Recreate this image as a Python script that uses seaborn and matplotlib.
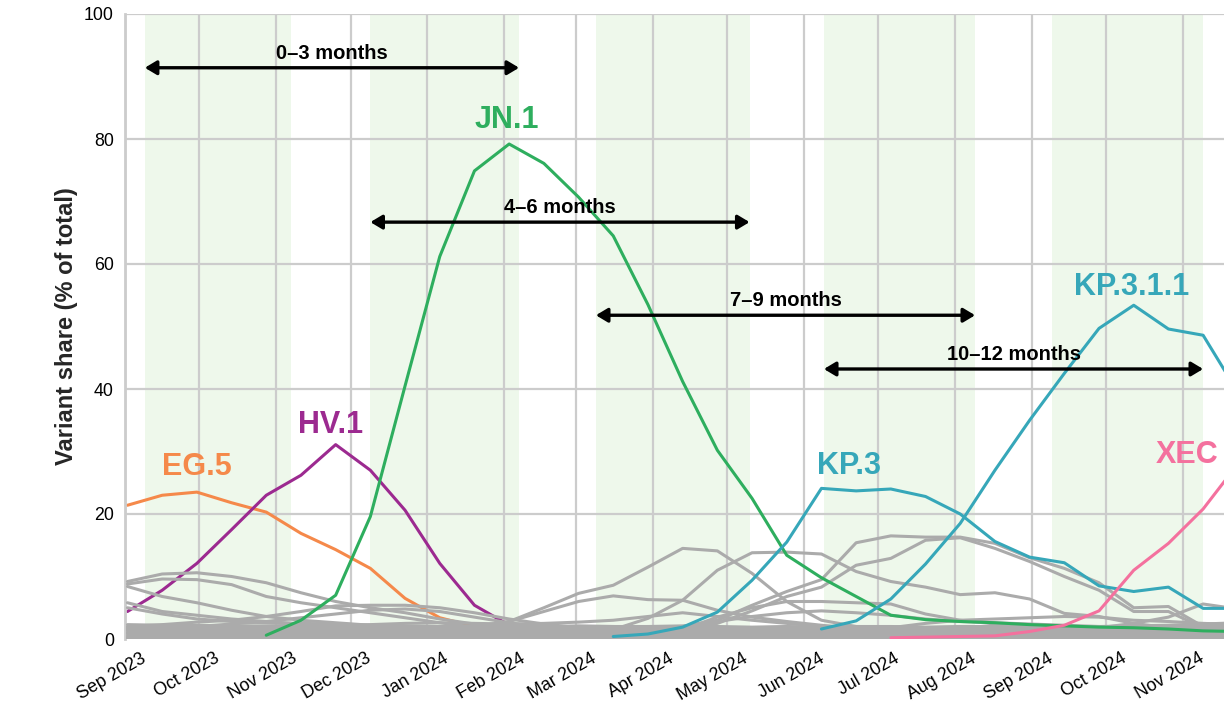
import matplotlib
matplotlib.use("Agg")
import matplotlib.pyplot as plt
from matplotlib.transforms import ScaledTranslation
import seaborn as sns
import pandas as pd
import numpy as np

# biweekly periods (Saturdays)
dates = pd.date_range("2023-09-02", periods=33, freq="14D")
nan = np.nan

# highlighted lineages, % share
eg5 = [21.4, 23.0, 23.5, 21.8, 20.3, 16.9, 14.3, 11.3, 6.5, 3.4, 2.0, 1.5, 1.2,
       0.9, 0.7, 0.5, 0.4, 0.3, 0.2, 0.2, 0.1, 0.1, 0.1, 0.1, 0.1, 0.1, 0.1, 0.1,
       0.1, 0.1, 0.1, 0.1, 0.1]
hv1 = [4.4, 7.8, 12.1, 17.5, 23.0, 26.2, 31.1, 27.0, 20.6, 12.1, 5.4, 2.2, 1.4,
       0.9, 0.6, 0.4, 0.3, 0.2, 0.2, 0.1, 0.1, 0.1, 0.1, 0.1, 0.1, 0.1, 0.1, 0.1,
       0.1, 0.1, 0.1, 0.1, 0.1]
jn1 = [nan, nan, nan, nan, 0.6, 3.0, 7.0, 19.6, 40.5, 61.2, 74.9, 79.2, 76.1,
       70.7, 64.5, 53.5, 41.2, 30.2, 22.5, 13.4, 9.8, 6.8, 3.8, 3.1, 2.8, 2.6,
       2.3, 2.1, 1.9, 1.8, 1.6, 1.3, 1.2]
kp3 = [nan, nan, nan, nan, nan, nan, nan, nan, nan, nan, nan, nan, nan, nan,
       0.4, 0.8, 1.9, 4.3, 9.4, 15.5, 24.1, 23.7, 24.0, 22.8, 20.0, 15.6, 13.1,
       12.2, 8.5, 7.6, 8.3, 4.9, 4.9]
kp311 = [nan, nan, nan, nan, nan, nan, nan, nan, nan, nan, nan, nan, nan, nan,
         nan, nan, nan, nan, nan, nan, 1.6, 2.9, 6.4, 12.0, 18.5, 27.0, 35.0,
         42.5, 49.7, 53.4, 49.6, 48.6, 39.5]
xec = [nan, nan, nan, nan, nan, nan, nan, nan, nan, nan, nan, nan, nan, nan,
       nan, nan, nan, nan, nan, nan, nan, nan, 0.2, 0.3, 0.4, 0.5, 1.2, 2.2, 4.5,
       11.0, 15.3, 20.8, 28.0]

# other lineages (grey)
g01 = [9.2, 10.4, 10.6, 10.0, 9.0, 7.4, 6.0, 5.0, 4.2, 3.2, 2.4, 1.8, 1.3, 1.0, 0.8, 0.6, 0.5,
       0.4, 0.3, 0.3, 0.3, 0.3, 0.3, 0.3, 0.3, 0.3, 0.3, 0.3, 0.3, 0.3, 0.3, 0.3, 0.3]
g02 = [8.8, 9.6, 9.5, 8.7, 6.8, 5.8, 5.0, 4.2, 3.4, 2.6, 1.9, 1.4, 1.0, 0.8, 0.6, 0.5, 0.4,
       0.4, 0.3, 0.3, 0.3, 0.3, 0.3, 0.3, 0.3, 0.3, 0.3, 0.3, 0.3, 0.3, 0.3, 0.3, 0.3]
g03 = [8.4, 6.8, 5.8, 4.6, 3.6, 3.0, 2.6, 2.2, 1.8, 1.4, 1.1, 0.9, 0.7, 0.6, 0.5, 0.4, 0.4,
       0.3, 0.3, 0.2, 0.2, 0.2, 0.2, 0.2, 0.2, 0.2, 0.2, 0.2, 0.2, 0.2, 0.2, 0.2, 0.2]
g04 = [5.8, 4.4, 3.8, 3.2, 2.8, 2.4, 2.0, 1.7, 1.4, 1.1, 0.9, 0.7, 0.6, 0.5, 0.4, 0.4, 0.3,
       0.3, 0.3, 0.2, 0.2, 0.2, 0.2, 0.2, 0.2, 0.2, 0.2, 0.2, 0.2, 0.2, 0.2, 0.2, 0.2]
g05 = [5.0, 4.0, 3.2, 2.8, 2.6, 2.5, 2.4, 2.2, 2.0, 1.7, 1.4, 1.1, 0.9, 0.7, 0.6, 0.5, 0.4,
       0.4, 0.3, 0.3, 0.3, 0.3, 0.3, 0.3, 0.3, 0.3, 0.3, 0.3, 0.3, 0.3, 0.3, 0.3, 0.3]
g06 = [2.0, 2.3, 2.7, 3.0, 3.6, 4.4, 5.3, 5.4, 5.4, 5.0, 4.2, 3.2, 2.4, 1.8, 1.3, 1.0, 0.8,
       0.6, 0.5, 0.4, 0.4, 0.4, 0.4, 0.4, 0.4, 0.4, 0.4, 0.4, 0.4, 0.4, 0.4, 0.4, 0.4]
g07 = [1.5, 1.8, 2.0, 2.4, 2.8, 3.4, 4.0, 4.6, 4.8, 4.4, 3.5, 2.6, 1.9, 1.4, 1.0, 0.8, 0.6,
       0.5, 0.4, 0.3, 0.3, 0.3, 0.3, 0.3, 0.3, 0.3, 0.3, 0.3, 0.3, 0.3, 0.3, 0.3, 0.3]
g08 = [0.2, 0.2, 0.2, 0.3, 0.3, 0.4, 0.5, 0.6, 0.8, 1.2, 2.0, 2.8, 5.0, 7.3, 8.6, 11.5, 14.5,
       14.1, 10.5, 6.0, 3.0, 2.0, 1.5, 1.2, 1.0, 0.8, 0.6, 0.5, 0.4, 0.4, 0.3, 0.3, 0.3]
g09 = [0.2, 0.2, 0.2, 0.2, 0.3, 0.3, 0.4, 0.5, 0.7, 1.0, 1.5, 2.8, 4.4, 6.0, 6.9, 6.3, 6.2,
       4.6, 3.5, 2.8, 2.2, 1.7, 1.3, 1.0, 0.8, 0.6, 0.5, 0.5, 0.4, 0.4, 0.3, 0.3, 0.3]
g10 = [0.1, 0.1, 0.1, 0.1, 0.1, 0.1, 0.2, 0.2, 0.2, 0.3, 0.4, 0.5, 0.7, 1.0, 1.5, 3.3, 6.2,
       11.0, 13.8, 13.9, 13.6, 10.8, 9.2, 8.3, 7.1, 7.4, 6.4, 4.1, 3.6, 2.5, 1.8, 1.2, 1.0]
g11 = [0.1, 0.1, 0.1, 0.1, 0.1, 0.1, 0.1, 0.1, 0.1, 0.1, 0.1, 0.2, 0.3, 0.4, 0.6, 1.0, 2.0,
       3.0, 5.4, 7.6, 9.5, 15.4, 16.5, 16.3, 16.3, 15.3, 13.0, 11.3, 9.0, 5.0, 5.2, 2.0, 1.5]
g12 = [0.1, 0.1, 0.1, 0.1, 0.1, 0.1, 0.1, 0.1, 0.1, 0.1, 0.1, 0.2, 0.3, 0.4, 0.6, 0.9, 1.5,
       2.5, 4.5, 6.8, 8.3, 11.8, 12.9, 15.8, 16.2, 14.5, 12.4, 10.0, 7.8, 4.4, 4.4, 1.8, 1.5]
g13 = [0.1, 0.1, 0.1, 0.1, 0.1, 0.1, 0.1, 0.1, 0.1, 0.1, 0.1, 0.1, 0.1, 0.1, 0.1, 0.1, 0.1,
       0.1, 0.1, 0.1, 0.2, 0.2, 0.3, 0.3, 0.4, 0.5, 0.6, 1.0, 1.8, 2.5, 3.5, 5.6, 4.8]
g14 = [0.1, 0.1, 0.1, 0.1, 0.1, 0.1, 0.1, 0.1, 0.1, 0.1, 0.1, 0.1, 0.2, 0.3, 0.5, 0.8, 1.5,
       3.5, 5.0, 6.0, 6.0, 5.8, 5.6, 4.0, 3.0, 2.4, 2.0, 1.6, 1.3, 1.0, 0.8, 0.6, 0.5]
g15 = [0.2, 0.2, 0.2, 0.2, 0.2, 0.2, 0.2, 0.2, 0.2, 0.2, 0.2, 0.2, 0.2, 0.2, 0.6, 1.2, 2.0,
       2.8, 3.6, 4.2, 4.5, 4.2, 3.8, 3.2, 2.8, 2.6, 2.4, 2.2, 2.0, 1.8, 1.6, 1.4, 1.2]
g16 = [1.0, 1.1, 1.2, 1.4, 1.6, 1.8, 2.0, 2.3, 2.5, 2.6, 2.5, 2.4, 2.5, 2.7, 3.0, 3.6, 4.2,
       3.6, 3.0, 2.5, 2.0, 1.6, 1.3, 1.1, 1.0, 0.9, 0.8, 0.7, 0.6, 0.5, 0.5, 0.4, 0.4]
g17 = [0.1, 0.1, 0.1, 0.1, 0.1, 0.1, 0.1, 0.1, 0.1, 0.1, 0.1, 0.1, 0.1, 0.1, 0.1, 0.2, 0.2,
       0.3, 0.3, 0.4, 0.5, 1.0, 1.8, 2.5, 3.0, 3.2, 3.4, 3.6, 3.5, 3.0, 2.8, 2.5, 2.3]
# many tiny lineages hugging the bottom
m1 = [0.2, 0.3, 0.3, 0.2, 0.2, 0.3, 0.3, 0.2, 0.2, 0.3, 0.3, 0.2, 0.2, 0.3, 0.3, 0.2, 0.2,
      0.3, 0.3, 0.2, 0.2, 0.3, 0.3, 0.2, 0.2, 0.3, 0.3, 0.2, 0.2, 0.3, 0.3, 0.2, 0.2]
m2 = [0.5, 0.6, 0.6, 0.5, 0.5, 0.6, 0.6, 0.5, 0.5, 0.6, 0.6, 0.5, 0.5, 0.6, 0.6, 0.5, 0.5,
      0.6, 0.6, 0.5, 0.5, 0.6, 0.6, 0.5, 0.5, 0.6, 0.6, 0.5, 0.5, 0.6, 0.6, 0.5, 0.5]
m3 = [0.8, 0.9, 0.9, 0.8, 0.8, 0.9, 0.9, 0.8, 0.8, 0.9, 0.9, 0.8, 0.8, 0.9, 0.9, 0.8, 0.8,
      0.9, 0.9, 0.8, 0.8, 0.9, 0.9, 0.8, 0.8, 0.9, 0.9, 0.8, 0.8, 0.9, 0.9, 0.8, 0.8]
m4 = [1.1, 1.2, 1.2, 1.1, 1.1, 1.2, 1.2, 1.1, 1.1, 1.2, 1.2, 1.1, 1.1, 1.2, 1.2, 1.1, 1.1,
      1.2, 1.2, 1.1, 1.1, 1.2, 1.2, 1.1, 1.1, 1.2, 1.2, 1.1, 1.1, 1.2, 1.2, 1.1, 1.1]
m5 = [1.4, 1.5, 1.5, 1.4, 1.4, 1.5, 1.5, 1.4, 1.4, 1.5, 1.5, 1.4, 1.4, 1.5, 1.5, 1.4, 1.4,
      1.5, 1.5, 1.4, 1.4, 1.5, 1.5, 1.4, 1.4, 1.5, 1.5, 1.4, 1.4, 1.5, 1.5, 1.4, 1.4]
m6 = [1.7, 1.6, 1.7, 1.8, 1.7, 1.6, 1.7, 1.8, 1.7, 1.6, 1.7, 1.8, 1.7, 1.6, 1.7, 1.8, 1.7,
      1.6, 1.7, 1.8, 1.7, 1.6, 1.7, 1.8, 1.7, 1.6, 1.7, 1.8, 1.7, 1.6, 1.7, 1.8, 1.7]
m7 = [1.9, 2.0, 2.0, 1.9, 1.9, 2.0, 2.0, 1.9, 1.9, 2.0, 2.0, 1.9, 1.9, 2.0, 2.0, 1.9, 1.9,
      1.8, 1.8, 1.9, 1.8, 1.8, 1.9, 1.8, 1.9, 1.9, 1.8, 1.9, 1.9, 2.0, 2.0, 2.1, 2.2]
m8 = [2.3, 2.2, 2.2, 2.1, 2.1, 2.2, 2.1, 2.0, 2.1, 2.0, 2.0, 2.1, 2.0, 2.1, 2.0, 2.0, 2.1,
      2.0, 1.9, 2.0, 1.9, 2.0, 2.0, 1.9, 2.0, 2.0, 1.9, 2.0, 2.0, 2.1, 2.2, 2.4, 2.6]

grey_lines = [g01, g02, g03, g04, g05, g06, g07, g08, g09, g10, g11, g12, g13,
              g14, g15, g16, g17, m1, m2, m3, m4, m5, m6, m7, m8]

# shaded windows and the arrows across them
band_starts = ["2023-09-09", "2023-12-09", "2024-03-09", "2024-06-09", "2024-09-09"]
band_ends = ["2023-11-07", "2024-02-07", "2024-05-10", "2024-08-09", "2024-11-09"]
arrow_labels = ["0\u20133 months", "4\u20136 months", "7\u20139 months", "10\u201312 months"]
arrow_y = [91.4, 66.7, 51.8, 43.2]

month_ticks = pd.date_range("2023-09-01", "2024-11-01", freq="MS")

colors = {"EG.5": "#f5894a", "HV.1": "#9c2a90", "JN.1": "#2eae5e",
          "KP.3": "#36a7b9", "KP.3.1.1": "#36a7b9", "XEC": "#f4719e"}
GREY = "#ababab"

sns.set_theme(style="white")
plt.rcParams["font.family"] = ["Liberation Sans", "DejaVu Sans"]

fig = plt.figure(figsize=(12.24, 7.04), dpi=100)
ax = fig.add_axes([125 / 1224, 65 / 704, 1207 / 1224, 625 / 704])

for s, e in zip(band_starts, band_ends):
    ax.axvspan(pd.Timestamp(s), pd.Timestamp(e), color="#eef8eb", lw=0, zorder=0)

df_grey = pd.DataFrame({
    "date": np.tile(dates.values, len(grey_lines)),
    "share": np.concatenate(grey_lines),
    "lineage": np.repeat(np.arange(len(grey_lines)), len(dates)),
})

def long(names, series):
    return pd.DataFrame({
        "date": np.tile(dates.values, len(series)),
        "share": np.concatenate(series),
        "variant": np.repeat(names, len(dates)),
    }).dropna()

early = long(["EG.5", "HV.1"], [eg5, hv1])
late = long(["JN.1", "KP.3", "KP.3.1.1", "XEC"], [jn1, kp3, kp311, xec])

sns.lineplot(data=early, x="date", y="share", hue="variant", palette=colors,
             units="variant", estimator=None, lw=2.2, legend=False, ax=ax, zorder=2)
sns.lineplot(data=df_grey, x="date", y="share", units="lineage", estimator=None,
             color=GREY, lw=2.2, legend=False, ax=ax, zorder=3)
sns.lineplot(data=late, x="date", y="share", hue="variant", palette=colors,
             units="variant", estimator=None, lw=2.2, legend=False, ax=ax, zorder=4)

# arrows
for i, lab in enumerate(arrow_labels):
    s, e = pd.Timestamp(band_starts[i]), pd.Timestamp(band_ends[i + 1])
    ax.annotate("", xy=(e, arrow_y[i]), xytext=(s, arrow_y[i]),
                arrowprops=dict(arrowstyle="<|-|>,head_length=0.5,head_width=0.3",
                                color="black", lw=2.4, shrinkA=0, shrinkB=0,
                                mutation_scale=14), zorder=6)
    ax.text(s + (e - s) / 2, arrow_y[i] + 1.45, lab, ha="center", va="baseline",
            fontsize=14.5, fontweight="bold", color="black", zorder=7)

# variant labels
ax.text(pd.Timestamp("2023-09-30"), 26.2, "EG.5", color=colors["EG.5"], fontsize=22,
        fontweight="bold", ha="center", va="baseline", zorder=7)
ax.text(pd.Timestamp("2023-11-23"), 32.9, "HV.1", color=colors["HV.1"], fontsize=22,
        fontweight="bold", ha="center", va="baseline", zorder=7)
ax.text(pd.Timestamp("2024-02-02"), 81.8, "JN.1", color=colors["JN.1"], fontsize=22,
        fontweight="bold", ha="center", va="baseline", zorder=7)
ax.text(pd.Timestamp("2024-06-19"), 26.4, "KP.3", color=colors["KP.3"], fontsize=22,
        fontweight="bold", ha="center", va="baseline", zorder=7)
ax.text(pd.Timestamp("2024-10-11"), 55.0, "KP.3.1.1", color=colors["KP.3.1.1"], fontsize=22,
        fontweight="bold", ha="center", va="baseline", zorder=7)
ax.text(pd.Timestamp("2024-10-21"), 28.1, "XEC", color=colors["XEC"], fontsize=22,
        fontweight="bold", ha="left", va="baseline", zorder=7)

ax.set_xlim(pd.Timestamp("2023-09-01"), pd.Timestamp("2024-12-31"))
ax.set_ylim(0, 100)
ax.set_yticks([0, 20, 40, 60, 80, 100])
ax.set_xticks(month_ticks)
ax.tick_params(axis="both", length=0, labelsize=12.8, colors="black")
ax.tick_params(axis="x", pad=8)
ax.tick_params(axis="y", pad=8)
ax.set_xticklabels([d.strftime("%b %Y") for d in month_ticks], rotation=30,
                   ha="right", rotation_mode="anchor", fontsize=12.8)
# labels sit a little right of their gridline, as in the original
offset = ScaledTranslation(0.15, 0, fig.dpi_scale_trans)
for lab in ax.get_xticklabels():
    lab.set_transform(lab.get_transform() + offset)
ax.grid(True, color="#cccccc", lw=1.6)
ax.set_axisbelow(True)
for side in ["top", "right", "bottom"]:
    ax.spines[side].set_visible(False)
ax.spines["left"].set_color("#cccccc")
ax.spines["left"].set_linewidth(2)
ax.set_xlabel("")
ax.set_ylabel("Variant share (% of total)", fontsize=17, fontweight="bold")
ax.yaxis.set_label_coords(-0.039, 0.5)

fig.savefig("out.png", dpi=100)
